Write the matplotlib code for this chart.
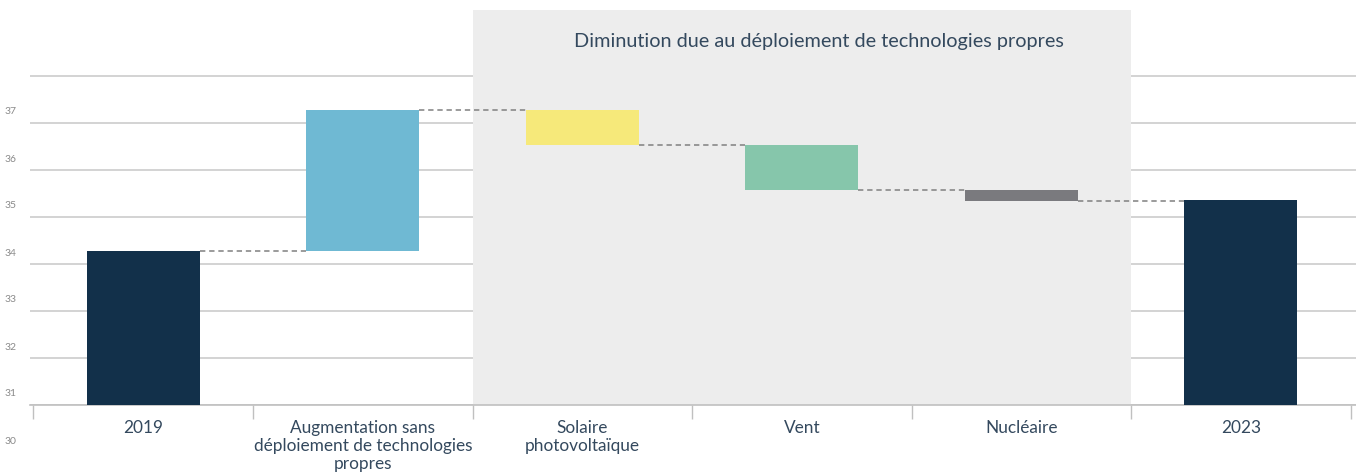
import matplotlib
matplotlib.use("Agg")
import matplotlib.pyplot as plt
import matplotlib.transforms as mtransforms

# ---- data ----
categories = ["2019", "Augmentation sans\ndéploiement de technologies\npropres",
              "Solaire\nphotovoltaïque", "Vent", "Nucléaire", "2023"]
start_2019 = 33.27
changes = [3.00, -0.73, -0.96, -0.23]
end_2023 = 34.37
bar_colors = ["#12304a", "#6fb9d3", "#f6e97a", "#86c6ab", "#7a7a7e", "#12304a"]
yticks = [30, 31, 32, 33, 34, 35, 36, 37]
shade_title = "Diminution due au déploiement de technologies propres"

plt.rcParams['font.family'] = ['Lato', 'DejaVu Sans']

W, H, DPI = 13.56, 4.74, 100
fig = plt.figure(figsize=(W, H), dpi=DPI)
ax = fig.add_axes([30 / 1356, (474 - 405) / 474, 1 - 30 / 1356, (405 - 10) / 474])

ybase = 30
ytop = 30 + 395 / 47
ax.set_xlim(-0.5156, 5.524)
ax.set_ylim(ybase, ytop)

bw = 0.515
# waterfall
bottoms, heights = [], []
bottoms.append(ybase); heights.append(start_2019 - ybase)
level = start_2019
levels = [start_2019]
for c in changes:
    lo, hi = sorted([level, level + c])
    bottoms.append(lo); heights.append(hi - lo)
    level = level + c
    levels.append(level)
bottoms.append(ybase); heights.append(end_2023 - ybase)

x = list(range(len(categories)))
ax.bar(x, heights, bottom=bottoms, width=bw, color=bar_colors, zorder=3)

# connectors
for i in range(len(levels)):
    ax.plot([i + bw / 2, i + 1 - bw / 2], [levels[i], levels[i]],
            color="#808080", lw=1.1, ls=(0, (3.5, 2.5)), zorder=2.5)

# shaded region
ax.axvspan(1.5, 4.5, color="#ededed", zorder=1.5, lw=0)
ax.text(3.08, 30 + (405 - 42) / 47, shade_title, ha="center", va="center",
        fontsize=14.3, color="#34495e", zorder=4)

# grid
ax.set_yticks(yticks)
ax.yaxis.grid(True, color="#d0d0d0", lw=1.3, zorder=1)
ax.set_axisbelow(True)
ax.set_yticklabels([str(v) for v in yticks])
ax.tick_params(axis="y", length=0, labelsize=7.5, labelcolor="#8a8a8a", pad=10)
offset = mtransforms.ScaledTranslation(0, -35 / DPI, fig.dpi_scale_trans)
for lab in ax.get_yticklabels():
    lab.set_transform(lab.get_transform() + offset)
    lab.set_horizontalalignment("right")

for s in ["top", "right", "left"]:
    ax.spines[s].set_visible(False)
ax.spines["bottom"].set_color("#c0c0c0")
ax.spines["bottom"].set_linewidth(1.2)

ax.set_xticks(x)
ax.set_xticklabels(categories, fontsize=12.4, color="#34495e", linespacing=1.15)
ax.tick_params(axis="x", length=0, pad=11)
ax.set_xticks([i - 0.5 for i in range(len(categories) + 1)], minor=True)
ax.tick_params(axis="x", which="minor", length=10, color="#c0c0c0", width=1)

fig.savefig("out.png", dpi=DPI)
